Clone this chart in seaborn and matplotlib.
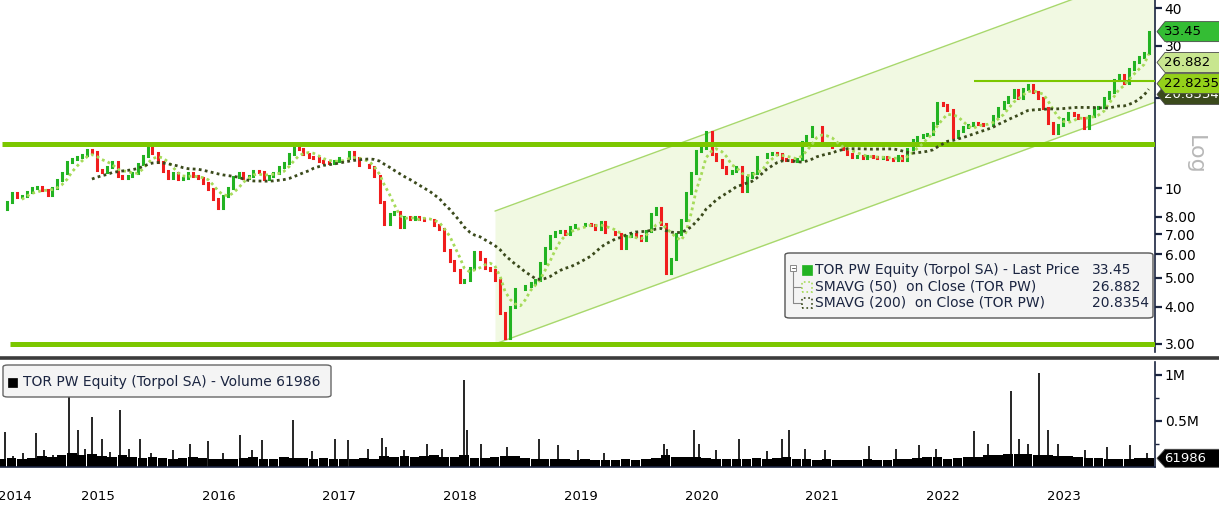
import numpy as np
import pandas as pd
import seaborn as sns
import matplotlib.pyplot as plt
import matplotlib.dates as mdates
import matplotlib.transforms as mtransforms
from matplotlib.patches import Rectangle, FancyBboxPatch, Polygon
from matplotlib.lines import Line2D
from matplotlib.ticker import FixedLocator, NullLocator, NullFormatter

# TOR PW closes, semi-monthly (1st / 15th)
close_2014 = [8.5, 9.0, 9.6, 9.3, 9.4, 9.7, 10.0]
close_2015 = [10.1, 9.85, 9.5, 10.0, 10.6, 11.2, 12.2, 12.5, 12.7, 12.9, 13.4, 13.2,
              11.5, 11.3, 11.8, 12.2, 11.0, 10.8, 11.0, 11.2, 12.0, 12.8, 13.6, 13.1]
close_2016 = [12.2, 11.4, 10.8, 11.2, 10.7, 10.8, 11.2, 11.0, 10.8, 10.4, 9.9, 9.2,
              8.6, 9.4, 10.0, 10.9, 11.2, 10.8, 11.0, 11.4, 11.3, 10.7, 11.0, 11.2]
close_2017 = [11.8, 12.1, 13.0, 13.6, 13.5, 13.0, 12.7, 12.6, 12.3, 12.2, 12.1, 12.3,
              12.6, 12.6, 13.2, 12.6, 11.9, 11.9, 11.8, 11.0, 9.0, 7.6, 8.2, 8.3]
close_2018 = [7.4, 8.0, 7.9, 8.0, 7.9, 7.8, 7.8, 7.5, 7.3, 6.2, 5.7, 5.3,
              4.85, 4.9, 5.4, 6.1, 5.8, 5.4, 5.3, 4.9, 3.8, 3.15, 4.0, 4.6]
close_2019 = [4.6, 4.7, 4.8, 4.9, 5.6, 6.3, 6.9, 7.1, 7.2, 7.0, 7.4, 7.5,
              7.5, 7.6, 7.5, 7.3, 7.7, 7.1, 7.1, 7.0, 6.3, 6.9, 7.0, 6.9]
close_2020 = [6.7, 7.2, 8.2, 8.6, 7.6, 5.2, 5.8, 7.0, 7.8, 9.6, 11.2, 13.3,
              13.6, 15.4, 13.0, 12.4, 11.8, 11.2, 11.4, 11.8, 9.8, 10.9, 11.2, 12.7]
close_2021 = [12.7, 13.0, 13.1, 13.0, 12.5, 12.4, 12.3, 12.5, 14.3, 15.0, 16.0, 16.0,
              14.0, 13.9, 13.7, 13.7, 13.5, 13.0, 12.7, 12.8, 12.6, 12.8, 12.7, 12.6]
close_2022 = [12.7, 12.5, 12.4, 12.8, 12.4, 13.5, 14.5, 14.8, 15.1, 15.2, 16.5, 19.3,
              19.0, 18.3, 14.8, 15.5, 16.0, 16.3, 16.5, 16.4, 16.3, 16.3, 17.5, 18.6]
close_2023 = [19.5, 20.2, 21.3, 20.0, 21.5, 22.2, 21.0, 20.0, 18.5, 16.5, 15.3, 16.3,
              17.0, 17.8, 17.6, 17.2, 15.9, 17.5, 18.5, 18.7, 20.0, 21.0, 23.0, 23.9]
close_2024 = [22.5, 25.0, 26.5, 27.4, 28.4, 33.45]

# legend / tag values
last_price = 33.45
sma50_last = 26.882
sma200_last = 20.8354
last_volume = 61986

# drawn levels and trend channel
resistance = 14.05
support = 3.00
recent_high = 22.8235
channel_dates = ['2018-10-16', '2024-04-03']
channel_low = [3.0, 19.4]
channel_high = [8.37, 54.2]

# monthly base volume (thousands), Sep 2014 - Mar 2024
vol_2014 = [90, 100, 85, 95]
vol_2015 = [120, 110, 130, 150, 130, 140, 120, 110, 130, 110, 100, 110]
vol_2016 = [95, 90, 95, 105, 95, 85, 90, 85, 95, 105, 90, 85]
vol_2017 = [105, 100, 95, 90, 95, 85, 90, 85, 95, 85, 120, 110]
vol_2018 = [115, 110, 120, 130, 110, 110, 125, 95, 100, 110, 120, 115]
vol_2019 = [95, 90, 85, 90, 85, 80, 85, 80, 75, 80, 85, 80]
vol_2020 = [85, 95, 125, 110, 105, 110, 95, 90, 85, 85, 90, 95]
vol_2021 = [90, 95, 105, 90, 85, 80, 85, 80, 75, 80, 85, 80]
vol_2022 = [80, 85, 90, 95, 105, 110, 90, 95, 105, 110, 125, 135]
vol_2023 = [140, 145, 140, 135, 125, 120, 115, 110, 100, 95, 90, 85]
vol_2024 = [90, 95, 100]

# single-day volume spikes (thousands)
spike_dates = ['2014-09-26', '2014-10-20', '2014-11-18', '2014-12-29', '2015-01-20', '2015-02-16',
               '2015-04-06', '2015-05-05', '2015-05-25', '2015-06-16', '2015-07-16', '2015-08-10',
               '2015-09-08', '2015-10-05', '2015-11-06', '2015-12-10', '2016-02-15', '2016-04-07',
               '2016-06-01', '2016-07-15', '2016-09-05', '2016-10-10', '2016-11-11', '2017-02-13',
               '2017-04-10', '2017-06-20', '2017-07-28', '2017-09-27', '2017-11-08', '2017-11-20',
               '2018-01-15', '2018-03-23', '2018-05-10', '2018-07-13', '2018-07-23', '2018-09-05',
               '2018-11-20', '2019-02-25', '2019-04-25', '2019-06-25', '2019-09-10', '2020-03-10',
               '2020-03-20', '2020-06-09', '2020-06-24', '2020-08-15', '2020-10-23', '2021-01-15',
               '2021-03-01', '2021-03-23', '2021-05-10', '2021-07-09', '2021-11-19', '2022-02-10',
               '2022-04-20', '2022-06-10', '2022-10-04', '2022-11-15', '2023-01-24', '2023-02-17',
               '2023-03-15', '2023-04-19', '2023-05-15', '2023-06-15', '2023-09-04', '2023-11-10',
               '2024-01-19', '2024-03-10']
spike_vols = [380, 120, 150, 370, 180, 130,
              820, 400, 200, 540, 300, 160,
              620, 200, 300, 150, 180, 250,
              280, 150, 350, 180, 290, 510,
              170, 300, 290, 200, 310, 220,
              190, 250, 200, 940, 400, 250,
              220, 300, 240, 190, 150, 250,
              200, 400, 250, 180, 300, 170,
              300, 400, 200, 180, 230, 200,
              240, 200, 390, 250, 830, 300,
              250, 1020, 400, 250, 190, 220,
              240, 150]

price_ticks = [3, 4, 5, 6, 7, 8, 10, 20, 30, 40]
price_labels = ['3.00', '4.00', '5.00', '6.00', '7.00', '8.00', '10', '20', '30', '40']
vol_ticks = [0.5e6, 1e6]
vol_labels = ['0.5M', '1M']
years = list(range(2015, 2024))

sns.set_style('white')
plt.rcParams['font.family'] = ['DejaVu Sans']

navy = '#1b2541'
green = '#22b322'
red = '#f01d1d'
sma50_col = '#a6db5a'
sma200_col = '#3b4a1c'
lime = '#7cc700'

W, H = 1219, 509
fig = plt.figure(figsize=(W / 100, H / 100), dpi=100)
ax = fig.add_axes([0, 1 - 352 / H, 1155 / W, 352 / H])
axv = fig.add_axes([0, 1 - 467 / H, 1155 / W, 105 / H], sharex=ax)


def fx(px):
    return px / W


def fy(py):
    return 1 - py / H


xmin = mdates.date2num(pd.Timestamp('2014-09-10'))
xmax = mdates.date2num(pd.Timestamp('2024-04-03'))

# ---- price panel ----
close = pd.Series(close_2014 + close_2015 + close_2016 + close_2017 + close_2018 +
                  close_2019 + close_2020 + close_2021 + close_2022 + close_2023 + close_2024)
dates = pd.date_range('2014-09-15', periods=len(close), freq='SMS')
x = mdates.date2num(dates)
opens = close.shift(1).fillna(close.iloc[0])
cols = np.where(close >= opens, green, red)

cx = mdates.date2num(pd.to_datetime(channel_dates))
ax.fill_between(cx, channel_low, channel_high, color='#f1f9e2', lw=0, zorder=0)
ax.plot(cx, channel_low, color='#a8d86c', lw=1, zorder=1)
ax.plot(cx, channel_high, color='#a8d86c', lw=1, zorder=1)

ax.vlines(x, np.minimum(opens, close), np.maximum(opens, close), colors=cols,
          lw=2.2, capstyle='projecting', zorder=3)

ax.hlines(resistance, mdates.date2num(pd.Timestamp('2014-09-16')), xmax, color=lime, lw=3.6, zorder=3.5)
ax.hlines(support, mdates.date2num(pd.Timestamp('2014-10-11')), xmax, color=lime, lw=3.6, zorder=3.5)
ax.hlines(recent_high, mdates.date2num(pd.Timestamp('2022-10-03')), xmax, color=lime, lw=1.5, zorder=3.5)

sma50 = close.rolling(5).mean()
sma200 = close.rolling(19).mean()
sns.lineplot(x=x, y=sma50.values, ax=ax, color=sma50_col, lw=2, linestyle=(0, (1, 1.2)), zorder=4)
sns.lineplot(x=x, y=sma200.values, ax=ax, color=sma200_col, lw=2, linestyle=(0, (1, 1.2)), zorder=4)

ax.set_yscale('log')
ax.set_ylim(2.82, 42.7)
ax.set_xlim(xmin, xmax)
ax.set_yticks(price_ticks, labels=price_labels)
ax.yaxis.set_minor_locator(NullLocator())
ax.yaxis.set_minor_formatter(NullFormatter())
ax.yaxis.tick_right()
ax.tick_params(axis='y', which='major', direction='out', length=5, width=1.6, color=navy,
               labelsize=10, labelcolor='black', pad=2)
ax.tick_params(axis='x', which='both', bottom=False, top=False, labelbottom=False)
ax.set_xlabel('')
ax.set_ylabel('')
for s in ['top', 'left', 'bottom']:
    ax.spines[s].set_visible(False)
ax.spines['right'].set_color(navy)
ax.spines['right'].set_linewidth(1.2)


def tag(axis, val, txt, fc, tc, shift=0.0, half=10, z=20):
    # arrow-shaped value tag just right of the axis, placed at the value
    yd = axis.transData.transform((xmax, val))[1]
    yc = H - yd + shift
    pts = [(1157, yc), (1165, yc - half), (W + 2, yc - half), (W + 2, yc + half), (1165, yc + half)]
    fig.add_artist(Polygon([(fx(a), fy(b)) for a, b in pts], closed=True,
                           transform=fig.transFigure, fc=fc, ec='#4a4a4a', lw=0.6, zorder=z))
    fig.text(fx(1164), fy(yc), txt, fontsize=9.5, color=tc, ha='left', va='center', zorder=z + 0.5)


tag(ax, sma200_last, f'{sma200_last}', sma200_col, 'white', shift=1.5, z=20)
tag(ax, recent_high, f'{recent_high}', '#94d11a', 'black', shift=2.5, z=21)
tag(ax, sma50_last, f'{sma50_last}', '#c8e68f', 'black', shift=2.5, z=22)
tag(ax, last_price, f'{last_price:.2f}', '#34bd34', 'black', shift=0, z=23)

fig.text(fx(1195), fy(155), 'Log', rotation=270, color='#b8b8b8', fontsize=16,
         ha='center', va='center')

# ---- price legend ----
fig.add_artist(FancyBboxPatch((fx(785), fy(318)), 368 / W, 65 / H,
                              boxstyle='round,pad=0,rounding_size=0.004',
                              transform=fig.transFigure, fc='#f4f4f4', ec='#555555', lw=1, zorder=10))
fig.add_artist(Rectangle((fx(790), fy(271)), 6 / W, 6 / H, transform=fig.transFigure,
                         fc='white', ec='#888888', lw=0.7, zorder=11))
fig.add_artist(Line2D([fx(791.5), fx(794.5)], [fy(268), fy(268)], transform=fig.transFigure,
                      color='#666666', lw=0.7, zorder=12))
fig.add_artist(Line2D([fx(793), fx(793), fx(801)], [fy(271), fy(303), fy(303)],
                      transform=fig.transFigure, color='#888888', lw=0.8, zorder=11))
fig.add_artist(Line2D([fx(793), fx(801)], [fy(287), fy(287)],
                      transform=fig.transFigure, color='#888888', lw=0.8, zorder=11))
fig.add_artist(Rectangle((fx(802), fy(275)), 10 / W, 10 / H, transform=fig.transFigure,
                         fc=green, ec=green, lw=0.5, zorder=11))
fig.add_artist(Rectangle((fx(802), fy(292)), 10 / W, 10 / H, transform=fig.transFigure,
                         fc='none', ec=sma50_col, ls=':', lw=1.2, zorder=11))
fig.add_artist(Rectangle((fx(802), fy(308)), 10 / W, 10 / H, transform=fig.transFigure,
                         fc='none', ec=sma200_col, ls=':', lw=1.2, zorder=11))
rows = [('TOR PW Equity (Torpol SA) - Last Price', f'{last_price:.2f}', 270),
        ('SMAVG (50)  on Close (TOR PW)', f'{sma50_last}', 287),
        ('SMAVG (200)  on Close (TOR PW)', f'{sma200_last}', 303)]
for label, val, ypx in rows:
    fig.text(fx(815), fy(ypx), label, fontsize=10, color=navy, ha='left', va='center', zorder=12)
    fig.text(fx(1092), fy(ypx), val, fontsize=10, color=navy, ha='left', va='center', zorder=12)

# separator between panels
fig.add_artist(Line2D([0, 1], [fy(357.5), fy(357.5)], transform=fig.transFigure,
                      color='#3c3c3c', lw=2.6, zorder=5))

# ---- volume panel ----
vol_base = (vol_2014 + vol_2015 + vol_2016 + vol_2017 + vol_2018 + vol_2019 +
            vol_2020 + vol_2021 + vol_2022 + vol_2023 + vol_2024)
vdates = pd.date_range('2014-09-01', periods=len(vol_base), freq='MS') + pd.Timedelta(days=14)
axv.bar(mdates.date2num(vdates), np.array(vol_base) * 1e3, width=29, color='black', lw=0)
axv.vlines(mdates.date2num(pd.to_datetime(spike_dates)), 0, np.array(spike_vols) * 1e3,
           color='black', lw=1.2)

axv.set_ylim(0, 1.14e6)
axv.set_xlim(xmin, xmax)
axv.set_yticks(vol_ticks, labels=vol_labels)
axv.yaxis.set_minor_locator(FixedLocator([0.25e6, 0.75e6]))
axv.yaxis.tick_right()
axv.tick_params(axis='y', which='major', direction='out', length=5, width=1.6, color=navy,
                labelsize=10, labelcolor='black', pad=2)
axv.tick_params(axis='y', which='minor', direction='out', length=3, width=1, color=navy)

axv.xaxis.set_major_locator(mdates.YearLocator())
axv.xaxis.set_minor_locator(mdates.MonthLocator(bymonth=[4, 7, 10]))
axv.xaxis.set_major_formatter(NullFormatter())
axv.xaxis.set_minor_formatter(NullFormatter())
axv.tick_params(axis='x', which='major', direction='out', length=30, width=1, color='#a0a0a0')
axv.tick_params(axis='x', which='minor', direction='out', length=4, width=1, color=navy)
for s in ['top', 'left']:
    axv.spines[s].set_visible(False)
for s in ['right', 'bottom']:
    axv.spines[s].set_color(navy)
    axv.spines[s].set_linewidth(1.2)

tr = mtransforms.blended_transform_factory(axv.transData, axv.transAxes)
axv.text(mdates.date2num(pd.Timestamp('2014-10-26')), -0.285, '2014', transform=tr,
         ha='center', va='center', fontsize=9.5, color='black')
for y in years:
    axv.text(mdates.date2num(pd.Timestamp(f'{y}-07-02')), -0.285, str(y), transform=tr,
             ha='center', va='center', fontsize=9.5, color='black')

tag(axv, last_volume, f'{last_volume}', 'black', 'white', shift=-3, half=9, z=20)

# volume legend
fig.add_artist(FancyBboxPatch((fx(3), fy(397)), 328 / W, 32 / H,
                              boxstyle='round,pad=0,rounding_size=0.004',
                              transform=fig.transFigure, fc='#f4f4f4', ec='#666666', lw=1, zorder=10))
fig.add_artist(Rectangle((fx(8), fy(387)), 9 / W, 9 / H, transform=fig.transFigure,
                         fc='black', ec='black', lw=0.5, zorder=11))
fig.text(fx(23), fy(382), f'TOR PW Equity (Torpol SA) - Volume {last_volume}', fontsize=10,
         color=navy, ha='left', va='center', zorder=12)

fig.savefig('out.png', dpi=100)
